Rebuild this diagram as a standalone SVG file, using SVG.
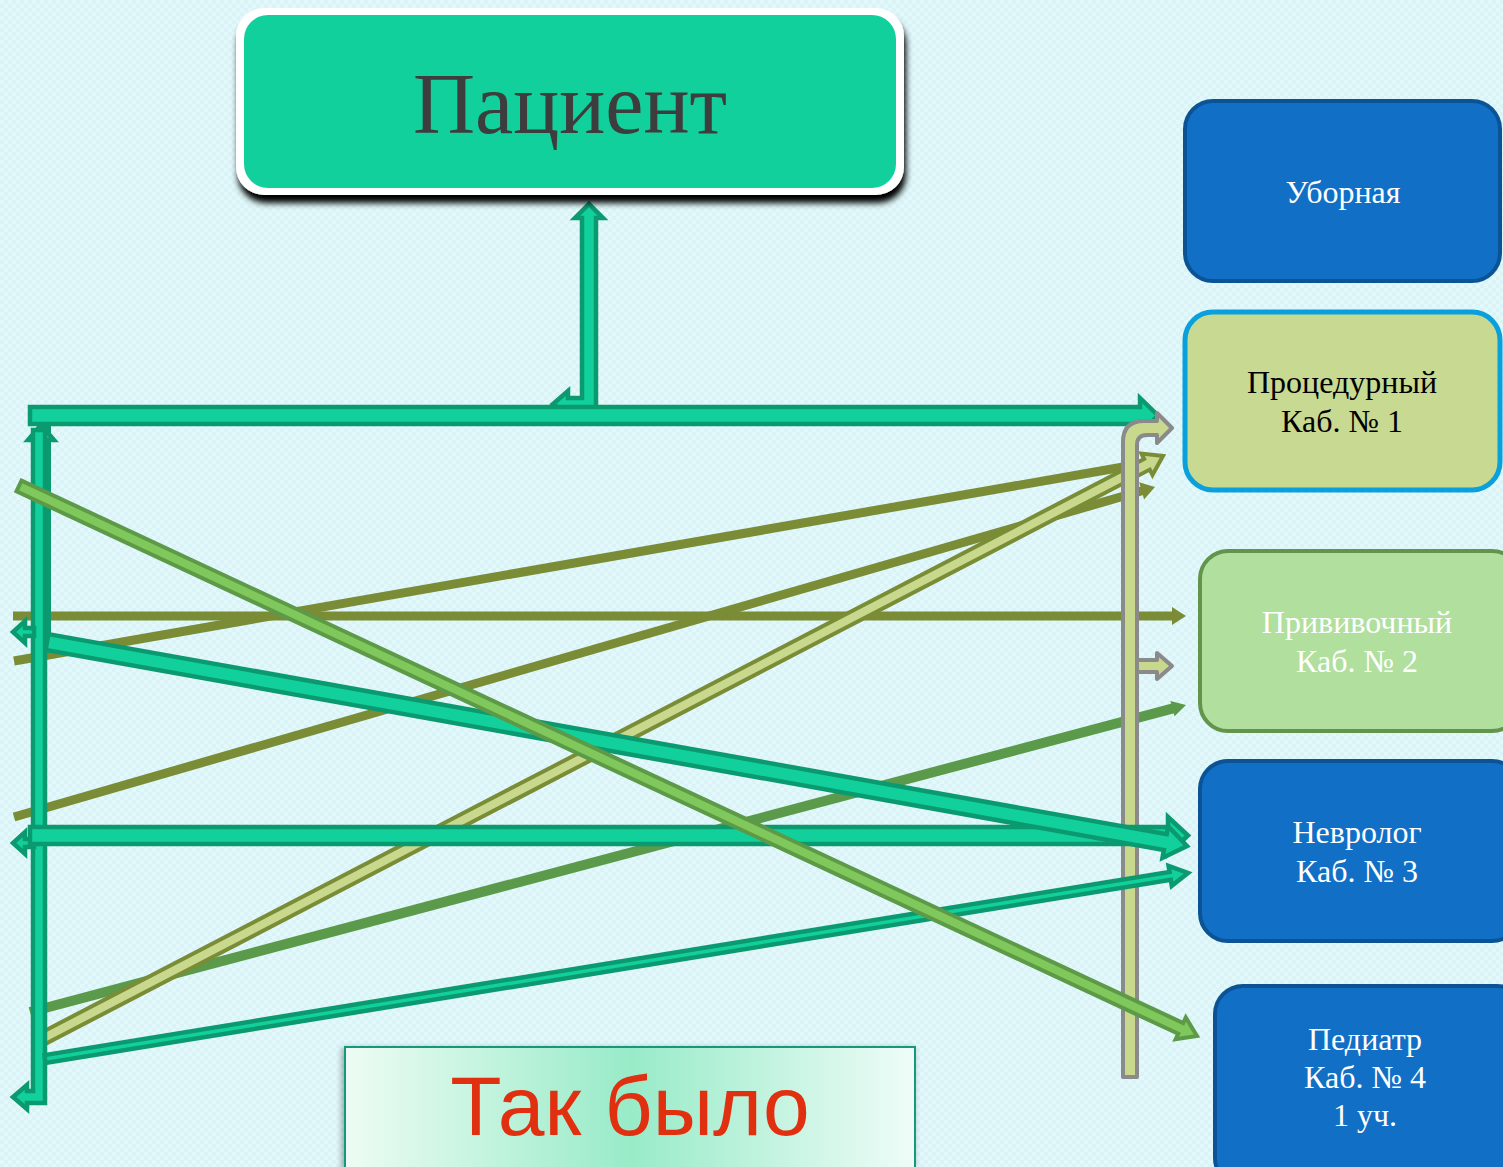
<svg xmlns="http://www.w3.org/2000/svg" width="1503" height="1167" viewBox="0 0 1503 1167">
<defs>
<pattern id="bg" width="8" height="8" patternUnits="userSpaceOnUse">
<rect width="8" height="8" fill="#d9f3f6"/>
<rect width="4" height="4" fill="#e2f8fa"/>
<rect x="4" y="4" width="4" height="4" fill="#e2f8fa"/>
</pattern>
<filter id="sh" x="-10%" y="-10%" width="120%" height="140%">
<feDropShadow dx="2" dy="8" stdDeviation="3" flood-color="#000" flood-opacity="1"/>
</filter>
<filter id="sh2" x="-10%" y="-20%" width="120%" height="140%">
<feDropShadow dx="-2" dy="2" stdDeviation="3" flood-color="#000" flood-opacity="0.35"/>
</filter>
<linearGradient id="gr" x1="0" y1="0" x2="1" y2="0">
<stop offset="0" stop-color="#eefcf4"/>
<stop offset="0.5" stop-color="#98ebc8"/>
<stop offset="1" stop-color="#effcf8"/>
</linearGradient>
<style>
.t{font-family:"Liberation Serif","Times New Roman",serif;font-size:32px;text-anchor:middle}
.w{fill:#ffffff}
.k{fill:#000000}
.blue{fill:#1170c6;stroke:#0b5394;stroke-width:4}
.teal{fill:#12d09c;stroke:#0b9a70;stroke-width:4.5;stroke-linejoin:miter}
.olive{stroke:#7a8c36;stroke-width:9;fill:none}
.oliveh{fill:#7a8c36}
.gray{fill:#c8d98e;stroke:#8a8a8a;stroke-width:4;stroke-linejoin:round}
</style>
</defs>
<rect width="1503" height="1167" fill="url(#bg)"/>

<g id="connectors">
<line class="olive" x1="13" y1="616" x2="1173" y2="616"/>
<polygon class="oliveh" points="1172,607 1186,616 1172,625"/>
<line class="olive" x1="14" y1="661" x2="1146" y2="463"/>
<polygon class="oliveh" points="1142.7,454.5 1158,461 1145.8,472.3"/>
<line class="olive" x1="14" y1="817" x2="1143" y2="490.5"/>
<polygon class="oliveh" points="1139.1,482.3 1155,487 1144.1,499.5"/>
<line x1="30" y1="1012" x2="1174" y2="708.2" stroke="#5b9a4a" stroke-width="10"/>
<polygon fill="#5b9a4a" points="1170.4,700.9 1186,705 1174.6,716.3"/>
<polygon fill="#c8d98e" stroke="#7a8c36" stroke-width="4" points="37.2,1034.7 1144.2,459 1141.5,453.6 1163,456 1152.5,475 1149.8,469.6 42.8,1045.3"/>
<polygon class="teal" points="596,412 596,218 603,218 589,204 575,218 582,218 582,398 568,398 568,391 553,404 568,414"/>
<rect x="44" y="425" width="7" height="215" fill="#0b9a70"/>
<polygon class="teal" points="28,440 41,425 54,440"/>
<polygon class="teal" points="33,430 45,430 45,1103 27,1103 27,1109 13,1097 27,1085 27,1091 33,1091"/>
<polygon class="teal" points="34,628 25,628 25,621 13,632 25,643 25,636 34,636"/>
<polygon class="teal" points="34,839 25,839 25,832 13,843 25,854 25,847 34,847"/>
<polygon class="teal" points="30,407 1140,407 1140,398 1158,415.5 1140,433 1140,424 30,424"/>
<path class="gray" d="M1123,1077 L1123,442 Q1123,421 1144,421 L1157,421 L1157,413 L1172,428 L1157,443 L1157,435 L1147,435 Q1137,435 1137,445 L1137,1077 Z"/>
<polygon class="gray" points="1137,660 1157,660 1157,653 1172,666 1157,679 1157,672 1137,672"/>
<polygon class="teal" points="30,827 1168,827 1168,817 1188,835.5 1168,854 1168,844 30,844"/>
<polygon class="teal" points="48.4,634.1 1166.7,834.2 1168.1,826.3 1187,846 1162.5,857.9 1163.9,850 45.6,649.9"/>
<polygon class="teal" stroke-width="3.5" points="44.4,1055.1 1169.6,872 1168.6,866 1188,873 1171.8,885.8 1170.8,879.8 45.6,1062.9"/>
<polygon fill="#80c85c" stroke="#5c9a48" stroke-width="4" points="21.5,480.6 1183.2,1023 1185.8,1017.5 1197,1036 1175.6,1039.3 1178.2,1033.8 16.5,491.4"/>
</g>

<g id="patient">
<rect x="236" y="8" width="668" height="187" rx="28" fill="#ffffff" filter="url(#sh)"/>
<rect x="244" y="15" width="652" height="173" rx="24" fill="#12d09c"/>
<text x="570" y="133" font-family="Liberation Serif, Times New Roman, serif" font-size="86" fill="#3d3d3d" text-anchor="middle">Пациент</text>
</g>

<g id="uborna">
<rect class="blue" x="1185" y="101" width="315" height="180" rx="28"/>
<text class="t w" x="1343" y="203">Уборная</text>
</g>

<g id="procedurny">
<rect x="1185" y="312" width="315" height="178" rx="28" fill="#c8d991" stroke="#0aa0dc" stroke-width="5"/>
<text class="t k" x="1342" y="393">Процедурный</text>
<text class="t k" x="1342" y="432">Каб. № 1</text>
</g>

<g id="privivochny">
<rect x="1200" y="551" width="320" height="180" rx="28" fill="#b0df9e" stroke="#62944c" stroke-width="4"/>
<text class="t w" x="1357" y="633">Прививочный</text>
<text class="t w" x="1357" y="672">Каб. № 2</text>
</g>

<g id="nevrolog">
<rect class="blue" x="1200" y="761" width="320" height="180" rx="28"/>
<text class="t w" x="1357" y="843">Невролог</text>
<text class="t w" x="1357" y="882">Каб. № 3</text>
</g>

<g id="pediatr">
<rect class="blue" x="1215" y="986" width="310" height="200" rx="28"/>
<text class="t w" x="1365" y="1050">Педиатр</text>
<text class="t w" x="1365" y="1088">Каб. № 4</text>
<text class="t w" x="1365" y="1126">1 уч.</text>
</g>

<g id="title">
<rect x="345" y="1047" width="570" height="140" fill="url(#gr)" stroke="#12997a" stroke-width="2" filter="url(#sh2)"/>
<text x="630" y="1135" font-family="Liberation Sans, Arial, sans-serif" font-size="84" fill="#e0300f" text-anchor="middle">Так было</text>
</g>
</svg>
